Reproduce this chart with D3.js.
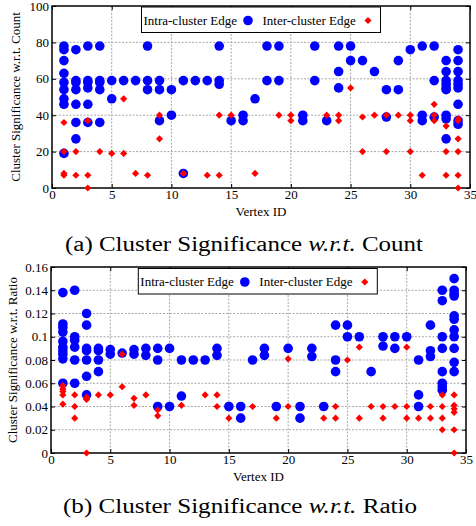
<!DOCTYPE html>
<html>
<head>
<meta charset="utf-8">
<script src="https://cdn.jsdelivr.net/npm/d3@7"></script>
<style>
  html, body { margin: 0; padding: 0; background: #fff; }
  svg { display: block; font-family: "Liberation Serif", "Times New Roman", serif; }
</style>
</head>
<body>
<svg id="chart" width="476" height="526"></svg>
<script>
// Vertex IDs with their points
const xTicks = [0, 5, 10, 15, 20, 25, 30, 35];
const countTicks = [0, 20, 40, 60, 80, 100];
const ratioTicks = [0, 0.02, 0.04, 0.06, 0.08, 0.1, 0.12, 0.14, 0.16];
const legendLabels = ['Intra-cluster Edge', 'Inter-cluster Edge'];

// (a) count - intra-cluster edges (blue)
const countIntra = [
  [1, [78, 76, 70, 63, 58, 54, 49, 46, 19]],
  [2, [76, 59, 58, 54, 46, 36, 27]],
  [3, [78, 59, 58, 55, 46, 36]],
  [4, [78, 59, 58, 54, 36]],
  [5, [59, 49]],
  [6, [59]],
  [7, [59]],
  [8, [78, 59, 54]],
  [9, [59, 54, 37]],
  [10, [54, 40]],
  [11, [59, 8]],
  [12, [59]],
  [13, [59]],
  [14, [78, 59, 57]],
  [15, [37]],
  [16, [40, 37]],
  [17, [49]],
  [18, [78, 59]],
  [19, [78, 59]],
  [21, [40, 37]],
  [22, [78, 59]],
  [23, [37]],
  [24, [78, 64, 55]],
  [25, [78, 70]],
  [26, [70]],
  [27, [64]],
  [28, [54, 39]],
  [29, [70, 54]],
  [30, [76]],
  [31, [78, 40, 37]],
  [32, [78, 59, 39]],
  [33, [70, 64, 59, 57, 55, 54, 40, 38, 27]],
  [34, [76, 70, 64, 59, 57, 55, 46, 37, 35]]
];

// (a) count - inter-cluster edges (red)
const countInter = [
  [1, [36, 20, 8, 7]],
  [2, [20, 7]],
  [3, [37, 7, 0]],
  [4, [20]],
  [5, [19]],
  [6, [49, 19]],
  [7, [8]],
  [8, [7]],
  [9, [40, 27]],
  [11, [8]],
  [13, [7]],
  [14, [40, 7]],
  [15, [40]],
  [17, [8]],
  [19, [40]],
  [20, [40, 37]],
  [23, [40]],
  [24, [40, 37]],
  [25, [55]],
  [26, [39, 20]],
  [27, [40]],
  [28, [40, 20]],
  [29, [40]],
  [30, [40, 37, 20]],
  [31, [7]],
  [32, [46, 40, 37]],
  [33, [34, 20, 7]],
  [34, [38, 37, 27, 20, 7, 0]]
];

// (b) ratio - intra-cluster edges (blue)
const ratioIntra = [
  [1, [0.138, 0.111, 0.108, 0.104, 0.096, 0.091, 0.088, 0.085, 0.081, 0.06]],
  [2, [0.14, 0.1, 0.097, 0.091, 0.08, 0.06]],
  [3, [0.12, 0.11, 0.09, 0.088, 0.08, 0.066, 0.05]],
  [4, [0.09, 0.088, 0.08, 0.07]],
  [5, [0.089, 0.085]],
  [6, [0.086]],
  [7, [0.089, 0.085]],
  [8, [0.09, 0.084]],
  [9, [0.09, 0.08, 0.04]],
  [10, [0.09, 0.04]],
  [11, [0.08, 0.049]],
  [12, [0.08]],
  [13, [0.08]],
  [14, [0.09, 0.084]],
  [15, [0.04]],
  [16, [0.04, 0.03]],
  [17, [0.08]],
  [18, [0.09, 0.084]],
  [19, [0.04]],
  [20, [0.09]],
  [21, [0.04, 0.03]],
  [22, [0.09, 0.083]],
  [23, [0.04]],
  [24, [0.11, 0.08, 0.07]],
  [25, [0.11, 0.1]],
  [26, [0.1]],
  [27, [0.07]],
  [28, [0.1, 0.092]],
  [29, [0.1, 0.09]],
  [30, [0.1]],
  [31, [0.08, 0.05, 0.04]],
  [32, [0.11, 0.088, 0.083]],
  [33, [0.14, 0.131, 0.1, 0.09, 0.07, 0.06, 0.057, 0.054]],
  [34, [0.15, 0.14, 0.137, 0.135, 0.118, 0.115, 0.106, 0.1, 0.09, 0.078, 0.07]]
];

// (b) ratio - inter-cluster edges (red)
const ratioInter = [
  [1, [0.058, 0.055, 0.053, 0.05, 0.042]],
  [2, [0.05, 0.04, 0.03]],
  [3, [0.048, 0.046, 0]],
  [4, [0.05]],
  [5, [0.05]],
  [6, [0.085, 0.057]],
  [7, [0.047, 0.041]],
  [8, [0.05]],
  [9, [0.037, 0.032]],
  [11, [0.041]],
  [13, [0.05]],
  [14, [0.05, 0.04]],
  [15, [0.03]],
  [17, [0.04]],
  [19, [0.03]],
  [20, [0.081, 0.04]],
  [23, [0.03]],
  [24, [0.04, 0.03]],
  [25, [0.08]],
  [26, [0.091, 0.03]],
  [27, [0.04]],
  [28, [0.04, 0.03]],
  [29, [0.04]],
  [30, [0.091, 0.04, 0.03]],
  [31, [0.03]],
  [32, [0.04, 0.03]],
  [33, [0.05, 0.04, 0.03, 0.02]],
  [34, [0.05, 0.041, 0.038, 0.035, 0.02, 0]]
];

const svg = d3.select('#chart');

// group list -> flat [x, y] points
function flatten(groups) {
  return groups.flatMap(([v, ys]) => ys.map(y => [v, y]));
}

function drawPanel(cfg) {
  const x = d3.scaleLinear().domain([0, 35]).range([cfg.left, cfg.right]);
  const y = d3.scaleLinear().domain(cfg.yDomain).range([cfg.bottom, cfg.top]);
  const g = svg.append('g');

  // grid
  g.append('g').selectAll('line')
    .data(xTicks.slice(1, -1))
    .enter().append('line')
    .attr('x1', d => x(d)).attr('x2', d => x(d))
    .attr('y1', cfg.top).attr('y2', cfg.bottom)
    .attr('stroke', '#a8a8a8').attr('stroke-width', 1)
    .attr('stroke-dasharray', '2,1.5');
  g.append('g').selectAll('line')
    .data(cfg.yTicks.slice(1, -1))
    .enter().append('line')
    .attr('x1', cfg.left).attr('x2', cfg.right)
    .attr('y1', d => y(d)).attr('y2', d => y(d))
    .attr('stroke', '#a8a8a8').attr('stroke-width', 1)
    .attr('stroke-dasharray', '2,1.5');

  // axes, ticks pointing inward
  const axB = g.append('g').attr('transform', `translate(0,${cfg.bottom})`)
    .call(d3.axisBottom(x).tickValues(xTicks).tickSize(-4).tickPadding(2).tickFormat(d3.format('d')));
  const axL = g.append('g').attr('transform', `translate(${cfg.left},0)`)
    .call(d3.axisLeft(y).tickValues(cfg.yTicks).tickSize(-4).tickPadding(3).tickFormat(cfg.yFormat));
  g.append('g').attr('transform', `translate(0,${cfg.top})`)
    .call(d3.axisTop(x).tickValues(xTicks).tickSize(-4).tickFormat(''));
  g.append('g').attr('transform', `translate(${cfg.right},0)`)
    .call(d3.axisRight(y).tickValues(cfg.yTicks).tickSize(-4).tickFormat(''));

  g.selectAll('.domain').remove();
  g.selectAll('.tick line').attr('stroke', '#000').attr('stroke-width', 1);
  [axB, axL].forEach(a => a.selectAll('text')
    .attr('fill', '#000')
    .style('font-family', '"Liberation Serif", serif')
    .style('font-size', '13px'));

  // frame
  g.append('rect')
    .attr('x', cfg.left).attr('y', cfg.top)
    .attr('width', cfg.right - cfg.left).attr('height', cfg.bottom - cfg.top)
    .attr('fill', 'none').attr('stroke', '#000').attr('stroke-width', 1.5);

  // points
  g.append('g').selectAll('circle')
    .data(flatten(cfg.intra))
    .enter().append('circle')
    .attr('cx', d => x(d[0])).attr('cy', d => y(d[1]))
    .attr('r', 4.8).attr('fill', '#0000ff');

  const diamond = d3.symbol().type(d3.symbolDiamond2).size(33);
  g.append('g').selectAll('path')
    .data(flatten(cfg.inter))
    .enter().append('path')
    .attr('d', diamond)
    .attr('transform', d => `translate(${x(d[0])},${y(d[1])})`)
    .attr('fill', '#ff0000');

  // legend
  const lg = g.append('g').attr('transform', `translate(${cfg.legendX},${cfg.legendY})`);
  lg.append('rect')
    .attr('width', 239).attr('height', 25.5)
    .attr('fill', '#fff').attr('stroke', '#000').attr('stroke-width', 1);
  lg.append('text').attr('x', 2).attr('y', 17.5)
    .style('font-size', '13px').text(legendLabels[0]);
  lg.append('circle').attr('cx', 106.5).attr('cy', 13.5).attr('r', 4.8).attr('fill', '#0000ff');
  lg.append('text').attr('x', 121).attr('y', 17.5)
    .style('font-size', '13px').text(legendLabels[1]);
  lg.append('path').attr('d', diamond)
    .attr('transform', 'translate(226.5,13.5)').attr('fill', '#ff0000');

  // axis titles
  g.append('text')
    .attr('x', (cfg.left + cfg.right) / 2).attr('y', cfg.bottom + 28)
    .attr('text-anchor', 'middle').style('font-size', '13px')
    .text('Vertex ID');
  g.append('text')
    .attr('transform', `translate(${cfg.yLabelX},${(cfg.top + cfg.bottom) / 2}) rotate(-90)`)
    .attr('text-anchor', 'middle').style('font-size', '13px')
    .text(cfg.yLabel);

  // caption
  const cap = g.append('text')
    .attr('x', cfg.captionX).attr('y', cfg.captionY)
    .attr('textLength', cfg.captionW).attr('lengthAdjust', 'spacingAndGlyphs')
    .style('font-size', '20px');
  cap.append('tspan').text(cfg.caption[0]);
  cap.append('tspan').style('font-style', 'italic').text('w.r.t.');
  cap.append('tspan').text(cfg.caption[1]);
}

drawPanel({
  left: 52, right: 470, top: 6, bottom: 188,
  yDomain: [0, 100], yTicks: countTicks, yFormat: d3.format('d'),
  intra: countIntra, inter: countInter,
  legendX: 141.5, legendY: 7,
  yLabel: 'Cluster Significance w.r.t. Count', yLabelX: 20,
  caption: ['(a) Cluster Significance ', ' Count'],
  captionX: 65, captionY: 251, captionW: 358
});

drawPanel({
  left: 51, right: 466, top: 267, bottom: 453,
  yDomain: [0, 0.16], yTicks: ratioTicks, yFormat: d => d === 0 ? '0' : String(+d.toFixed(2)),
  intra: ratioIntra, inter: ratioInter,
  legendX: 138.3, legendY: 268.5,
  yLabel: 'Cluster Significance w.r.t. Ratio', yLabelX: 17,
  caption: ['(b) Cluster Significance ', ' Ratio'],
  captionX: 63, captionY: 513, captionW: 354
});
</script>
</body>
</html>
